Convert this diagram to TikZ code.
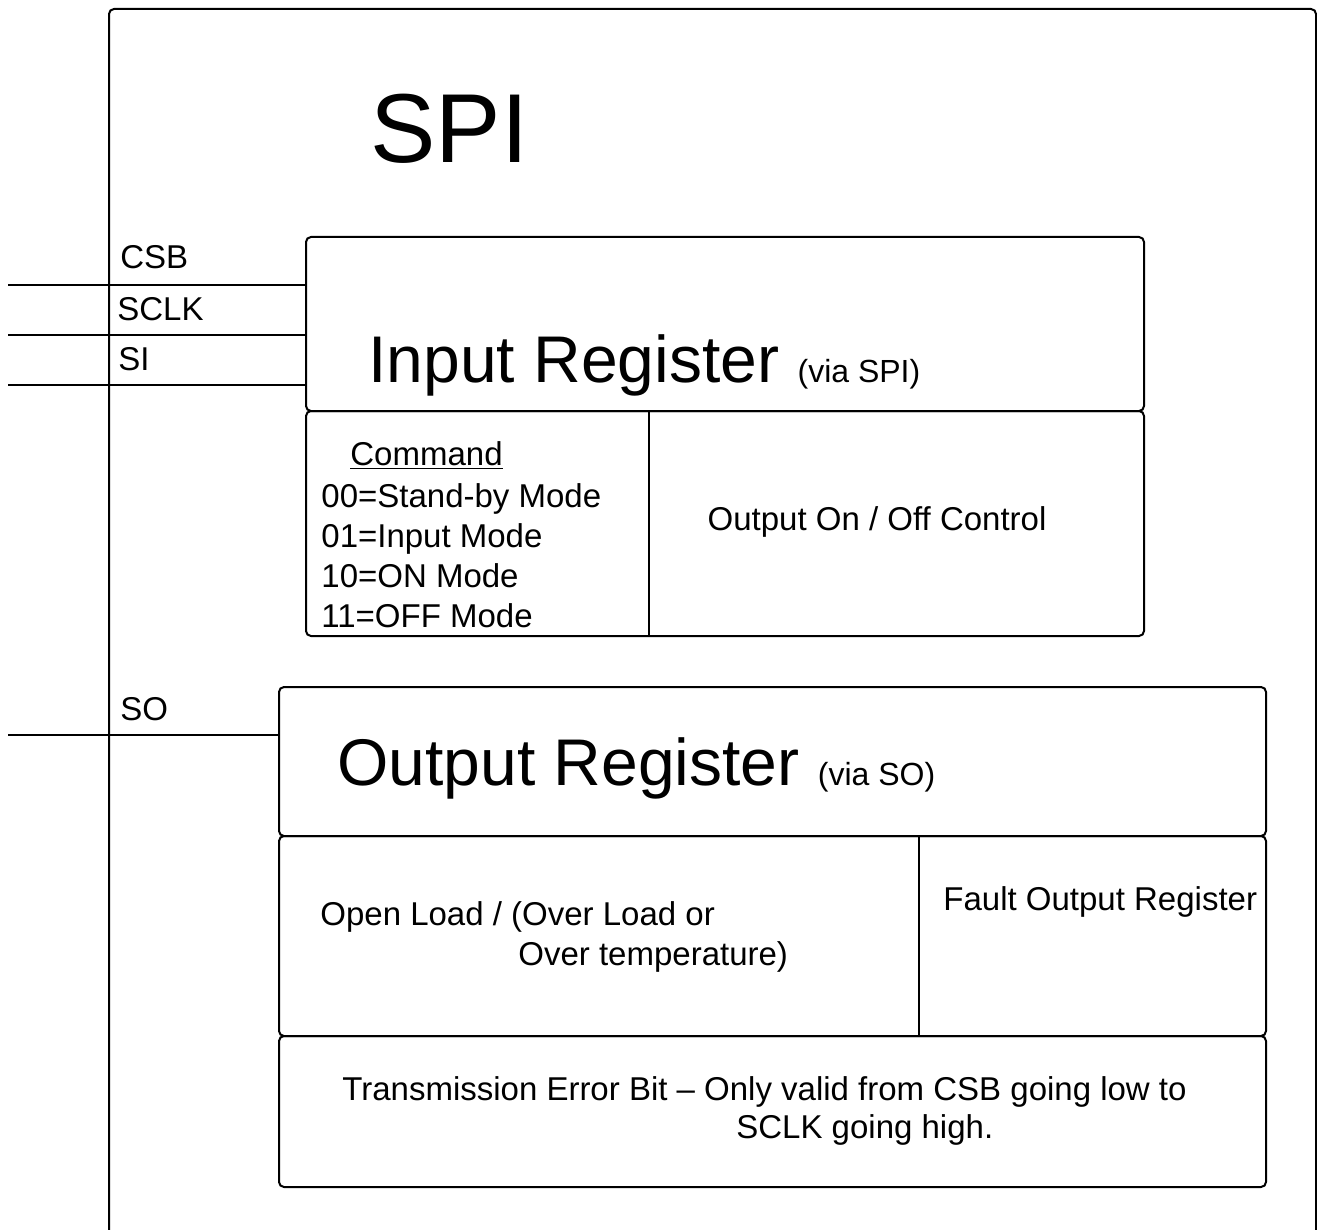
\documentclass[tikz,border=0pt]{standalone}
\usepackage{fontspec}
\setmainfont{Liberation Sans}
\usepackage{tikz}
\usetikzlibrary{positioning,calc}

\begin{document}
\begin{tikzpicture}[x=0.5pt,y=-0.5pt,
    regbox/.style={draw,line width=1pt,rounded corners=2.5pt,inner sep=0pt,anchor=north west},
    sig/.style={line width=0.6pt},
    lbl/.style={inner sep=0pt,anchor=base west,font=\fontsize{16.5}{20}\selectfont},
    big/.style={inner sep=0pt,anchor=base west,font=\fontsize{33}{40}\selectfont}
  ]
    \useasboundingbox (0,0) rectangle (1317,1230);

    % chip outline (runs off the bottom)
    \node[regbox,minimum width=603.5pt,minimum height=626pt] (chip) at (108,8) {};
    \node[inner sep=0pt,anchor=base west,font=\fontsize{49}{56}\selectfont] (title) at (370,163) {SPI};

    % input side
    \node[regbox,minimum width=419pt,minimum height=87pt] (inreg) at (305,236) {};
    \node[regbox,minimum width=419pt,minimum height=112.5pt] (inctl) at (305,410) {};
    \coordinate (cmdsplit) at (649,0);
    \draw[line width=1pt] (cmdsplit |- inctl.north) -- (cmdsplit |- inctl.south);

    \node[big] (intxt) at (368,382) {Input Register {\fontsize{16}{20}\selectfont (via SPI)}};
    \node[lbl] (cmdhead) at (350,465) {\underline{Command}};
    \foreach \code/\mode [count=\i] in {00/Stand-by,01/Input,10/ON,11/OFF}
      \node[lbl] (cmd\i) at (321,467+40*\i) {\code=\mode\ Mode};
    \node[lbl,anchor=base] (onoff) at (877,530) {Output On / Off Control};

    % output side
    \node[regbox,minimum width=493.5pt,minimum height=74.5pt] (outreg) at (278,686) {};
    \node[regbox,minimum width=493.5pt,minimum height=100pt] (outflt) at (278,835) {};
    \node[regbox,minimum width=493.5pt,minimum height=75.5pt] (txerr) at (278,1035) {};
    \coordinate (fltsplit) at (919,0);
    \draw[line width=1pt] (fltsplit |- outflt.north) -- (fltsplit |- outflt.south);

    \node[big] (outtxt) at (337,785) {Output Register {\fontsize{16}{20}\selectfont (via SO)}};
    \node[lbl] (open1) at (320,925) {Open Load / (Over Load or};
    \node[lbl] (open2) at (518,965) {Over temperature)};
    \node[lbl] (fault) at (943,910) {Fault Output Register};
    \node[lbl] (tx1) at (342,1100) {Transmission Error Bit -- Only valid from CSB going low to};
    \node[lbl] (tx2) at (736,1138) {SCLK going high.};

    % pins
    \node[lbl] (csb) at (120,269) {CSB};
    \node[lbl] (sclk) at (117,321) {SCLK};
    \node[lbl] (si) at (118,370) {SI};
    \node[lbl] (so) at (120,720) {SO};

    \coordinate (csbin) at (8,285);
    \coordinate (sclkin) at (8,335);
    \coordinate (siin) at (8,385);
    \coordinate (soout) at (8,735);
    \draw[sig] (csbin) -- (csbin -| inreg.west);
    \draw[sig] (sclkin) -- (sclkin -| inreg.west);
    \draw[sig] (siin) -- (siin -| inreg.west);
    \draw[sig] (soout) -- (soout -| outreg.west);
  \end{tikzpicture}
\end{document}
